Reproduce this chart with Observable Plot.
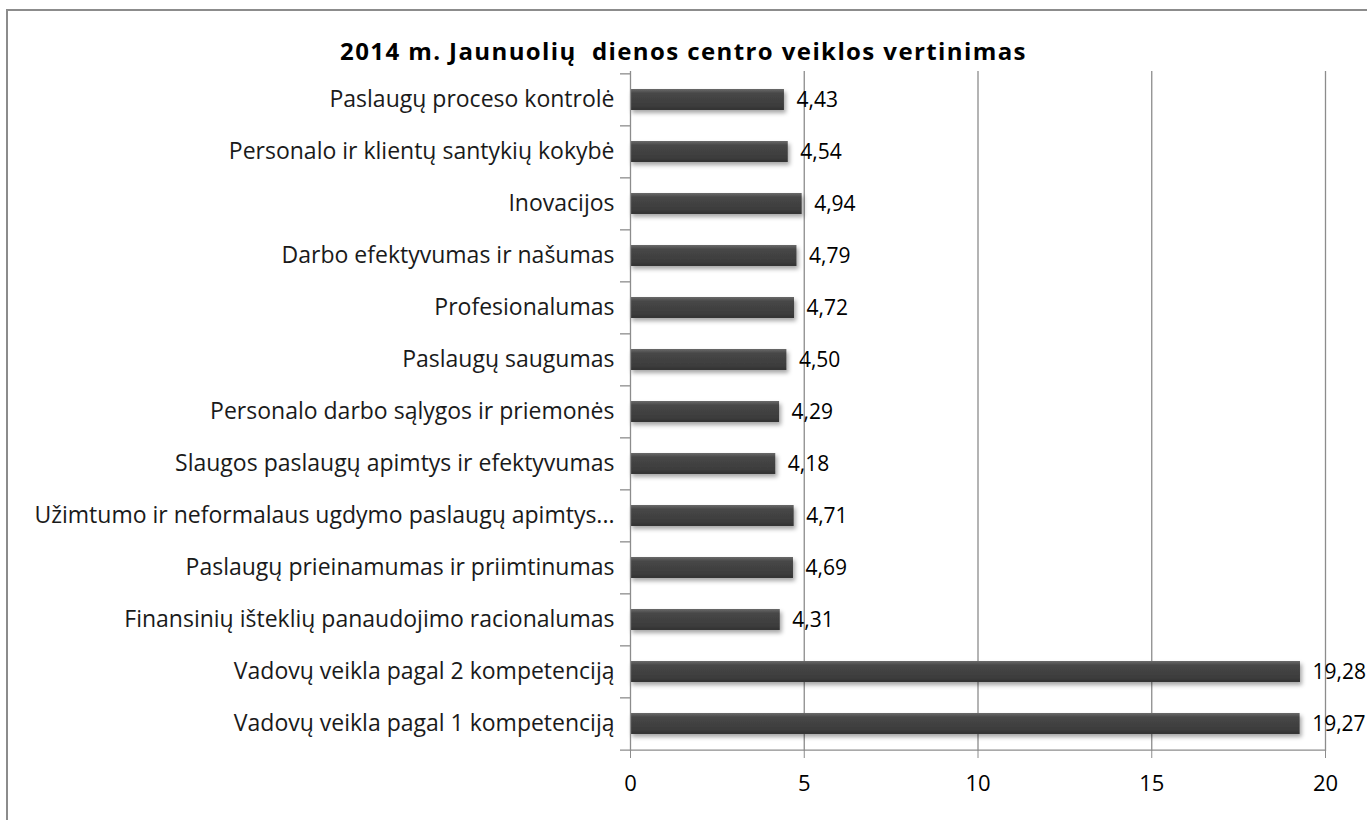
<!DOCTYPE html>
<html><head><meta charset="utf-8">
<script src="https://cdn.jsdelivr.net/npm/d3@7"></script>
<script src="https://cdn.jsdelivr.net/npm/@observablehq/plot@0.6"></script>
<style>
html,body{margin:0;padding:0;background:#fff;}
#wrap{position:relative;width:1367px;height:820px;overflow:hidden;font-family:"Open Sans",sans-serif;}
#frame{position:absolute;left:6px;top:9px;width:1400px;height:900px;border:2px solid #8c8c8c;box-sizing:border-box;}
#title{position:absolute;left:0;width:1367px;top:36px;line-height:30px;text-align:center;font-weight:bold;font-size:24px;letter-spacing:1.4px;white-space:pre;color:#000;}
#chart{position:absolute;left:0;top:0;}
</style></head><body>
<div id="wrap"><div id="frame"></div><div id="title"></div><div id="chart"></div></div>
<script>
const titleText = "2014 m. Jaunuolių  dienos centro veiklos vertinimas";
const categories = [
  "Paslaugų proceso kontrolė",
  "Personalo ir klientų santykių kokybė",
  "Inovacijos",
  "Darbo efektyvumas ir našumas",
  "Profesionalumas",
  "Paslaugų saugumas",
  "Personalo darbo sąlygos ir priemonės",
  "Slaugos paslaugų apimtys ir efektyvumas",
  "Užimtumo ir neformalaus ugdymo paslaugų apimtys...",
  "Paslaugų prieinamumas ir priimtinumas",
  "Finansinių išteklių panaudojimo racionalumas",
  "Vadovų veikla pagal 2 kompetenciją",
  "Vadovų veikla pagal 1 kompetenciją"
];
const values = [4.43, 4.54, 4.94, 4.79, 4.72, 4.50, 4.29, 4.18, 4.71, 4.69, 4.31, 19.28, 19.27];
const xTicks = [0, 5, 10, 15, 20];

document.getElementById("title").textContent = titleText;

const data = categories.map((c, i) => ({category: c, value: values[i]}));
const fmt = v => d3.format(".2f")(v).replace(".", ",");

const W = 1367, H = 820, mT = 71, mB = 69, mL = 630, mR = 42;
const step = (H - mT - mB) / categories.length;
const tickLen = 10 / ((W - mL - mR) / 20);

const plot = Plot.plot({
  width: W, height: H,
  marginTop: mT, marginBottom: mB, marginLeft: mL, marginRight: mR,
  style: {fontFamily: "'Open Sans', sans-serif", fontSize: "21px", color: "#000", background: "transparent", overflow: "visible"},
  x: {domain: [0, 20], label: null},
  y: {domain: categories, paddingInner: 0.6, paddingOuter: 0.3, label: null},
  marks: [
    Plot.ruleX(xTicks.filter(d => d > 0), {stroke: "#8c8c8c", strokeWidth: 1.3}),
    Plot.barX(data, {x: "value", y: "category", fill: "url(#barGrad)"}),
    Plot.ruleX([0], {stroke: "#8c8c8c", strokeWidth: 1.3}),
    Plot.ruleY(categories, {y: d => d, x1: -tickLen, x2: 0, dy: -step / 2, stroke: "#8c8c8c", strokeWidth: 1.3}),
    Plot.ruleY([categories[categories.length - 1]], {y: d => d, x1: -tickLen, x2: 20, dy: step / 2, stroke: "#8c8c8c", strokeWidth: 1.3}),
    Plot.text(data, {x: "value", y: "category", text: d => fmt(d.value), dx: 12, textAnchor: "start", fontSize: 21, fill: "#000"}),
    Plot.axisX({ticks: xTicks, tickSize: 7, tickPadding: 17, stroke: "#8c8c8c", tickFormat: d => String(d), fontSize: 22}),
    Plot.axisY({tickSize: 0, tickPadding: 16, fontSize: 23, fill: "#1a1a1a"})
  ]
});

const svg = d3.select(plot);
const defs = svg.insert("defs", ":first-child");
const g = defs.append("linearGradient").attr("id", "barGrad").attr("x1", 0).attr("y1", 0).attr("x2", 0).attr("y2", 1);
g.append("stop").attr("offset", "0%").attr("stop-color", "#6a6a6a");
g.append("stop").attr("offset", "20%").attr("stop-color", "#474747");
g.append("stop").attr("offset", "80%").attr("stop-color", "#3c3c3c");
g.append("stop").attr("offset", "100%").attr("stop-color", "#333333");
const f = defs.append("filter").attr("id", "shadow").attr("x", "-5%").attr("y", "-30%").attr("width", "110%").attr("height", "180%");
f.append("feDropShadow").attr("dx", 2).attr("dy", 3).attr("stdDeviation", 2).attr("flood-color", "#000").attr("flood-opacity", 0.35);
svg.selectAll("g[aria-label='bar']").attr("filter", "url(#shadow)");

document.getElementById("chart").appendChild(plot);
</script>
</body></html>
